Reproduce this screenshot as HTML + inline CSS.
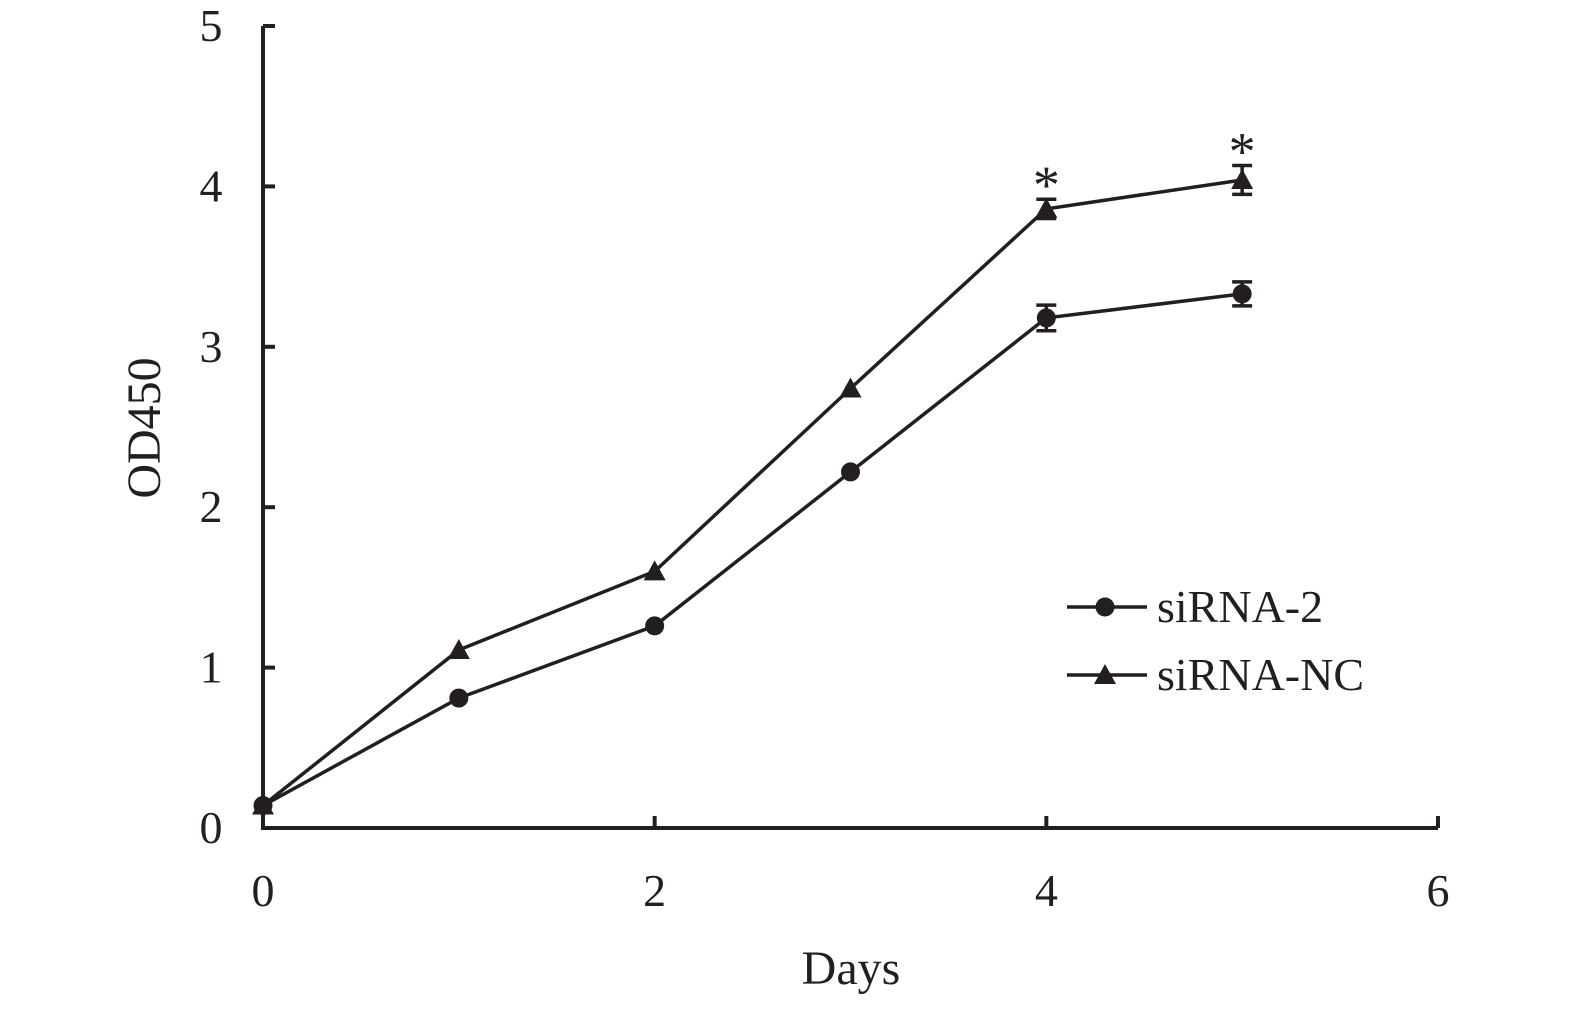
<!DOCTYPE html>
<html><head><meta charset="utf-8"><style>
body{margin:0;background:#fff}
svg text{font-family:"Liberation Serif",serif;fill:#231f20}
</style></head><body>
<svg id="chart" width="1575" height="1008" viewBox="0 0 1575 1008"></svg>
<script>
const days=[0,1,2,3,4,5];
const sirna2=[0.14,0.81,1.26,2.22,3.18,3.33];
const sirna2Err=[0,0,0,0,0.08,0.075];
const sirnaNC=[0.14,1.11,1.60,2.74,3.86,4.04];
const sirnaNCErr=[0,0,0,0,0.06,0.09];
const xTicks=[0,2,4,6];
const yTicks=[0,1,2,3,4,5];
const sigDays=[4,5];
const NS='http://www.w3.org/2000/svg';
const svg=document.getElementById('chart');
const X=v=>263+v*195.83;
const Y=v=>828-v*160.4;
function mk(t,a,p){const e=document.createElementNS(NS,t);for(const k in a)e.setAttribute(k,a[k]);(p||svg).appendChild(e);return e;}
const C='#231f20';
let ax=mk('path',{d:`M${X(0)} ${Y(5)} V${Y(0)} H${X(6)}`,fill:'none',stroke:C,'stroke-width':4});


yTicks.forEach(v=>{
 const t=mk('line',{x1:X(0),x2:X(0)+12,y1:Y(v),y2:Y(v),stroke:C,'stroke-width':4});
 
 
 const l=mk('text',{x:211,y:Y(v)+15,'font-size':46,'text-anchor':'middle'});l.textContent=v;
 
 
});
xTicks.forEach(v=>{
 const t=mk('line',{x1:X(v),x2:X(v),y1:Y(0),y2:Y(0)-12,stroke:C,'stroke-width':4});
 
 
 const l=mk('text',{x:X(v),y:906,'font-size':46,'text-anchor':'middle'});l.textContent=v;
 
 
});
let xt=mk('text',{x:851,y:984,'font-size':48,'text-anchor':'middle'});xt.textContent='Days';


let yt=mk('text',{x:0,y:0,'font-size':48,'text-anchor':'middle',transform:'translate(160,428) rotate(-90)'});yt.textContent='OD450';


function marker(type,cx,cy,name){
 let m;
 if(type==='circle')m=mk('circle',{cx,cy,r:9.5,fill:C});
 else m=mk('path',{d:`M${cx} ${cy-11} L${cx+11} ${cy+9} L${cx-11} ${cy+9}Z`,fill:C});
 
 
}
function series(vals,errs,type,name){
 const p=mk('polyline',{points:days.map((d,i)=>X(d)+','+Y(vals[i])).join(' '),fill:'none',stroke:C,'stroke-width':3.5});
 
 
 days.forEach((d,i)=>{
  if(errs[i]>0){
   const x=X(d),y1=Y(vals[i]+errs[i]),y2=Y(vals[i]-errs[i]);
   const e=mk('path',{d:`M${x} ${y1}V${y2}M${x-10} ${y1}H${x+10}M${x-10} ${y2}H${x+10}`,stroke:C,'stroke-width':3.5,fill:'none'});
   
   
  }
  marker(type,X(d),Y(vals[i]),name+'-point');
 });
}
series(sirna2,sirna2Err,'circle','sirna-2');
series(sirnaNC,sirnaNCErr,'tri','sirna-nc');
sigDays.forEach(d=>{
 const i=days.indexOf(d);
 const s=mk('text',{x:X(d),y:Y(sirnaNC[i]+sirnaNCErr[i])+4,'font-size':54,'text-anchor':'middle'});s.textContent='*';
 
 
});
[['circle','siRNA-2',607],['tri','siRNA-NC',675]].forEach(([t,lab,y])=>{
 const g=mk('g',{});
 
 
 mk('line',{x1:1067,x2:1147,y1:y,y2:y,stroke:C,'stroke-width':3.5},g);
 const tx=mk('text',{x:1157,y:y+15,'font-size':46},g);tx.textContent=lab;
 marker(t,1105,y,'legend-marker');
});
</script>
</body></html>
